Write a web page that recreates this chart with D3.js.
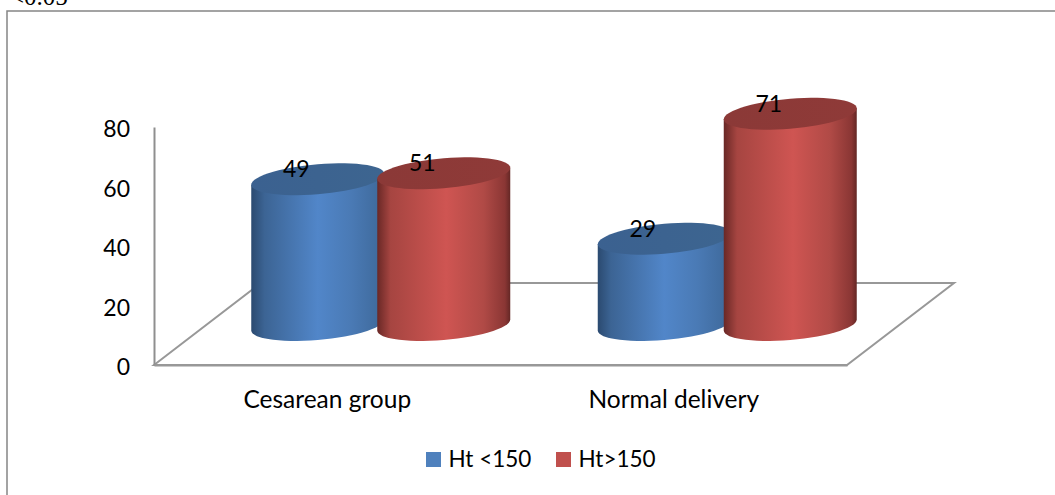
<!DOCTYPE html>
<html>
<head>
<meta charset="utf-8">
<script src="https://cdn.jsdelivr.net/npm/d3@7"></script>
<style>
  html, body { margin: 0; padding: 0; background: #fff; overflow: hidden; }
  text { font-family: Lato, sans-serif; fill: #000; }
</style>
</head>
<body>
<div id="chart"></div>
<script>
const categories = ["Cesarean group", "Normal delivery"];
const seriesNames = ["Ht <150", "Ht>150"];
const htUnder150 = [49, 29];
const htOver150 = [51, 71];
const yTicks = [0, 20, 40, 60, 80];
const seriesColors = ["#4f81bd", "#c0504d"];

let width = 1055,
  height = 495;

let svg = d3.select("#chart")
  .append("svg")
  .attr("width", width)
  .attr("height", height)
  .style("display", "block");

let data = [];
categories.forEach((c, i) => {
  data.push({ cat: c, series: 0, value: htUnder150[i] });
  data.push({ cat: c, series: 1, value: htOver150[i] });
});

let x = d3.scaleBand().domain(categories).range([154, 847]);
let y = d3.scaleLinear().domain([0, 80]).range([365, 127]);

// 3d floor offset
let depthX = 107, depthY = 82;
let shiftX = depthX / 2, shiftY = 40;

let barStep = 126, r = 66.5;
let inner = d3.scaleOrdinal().domain([0, 1]).range([-barStep / 2, barStep / 2]);

// outer frame, runs off the page on the right and bottom
svg.append("rect")
  .attr("x", 7).attr("y", 11)
  .attr("width", 1100).attr("height", 600)
  .attr("fill", "none")
  .attr("stroke", "#858585")
  .attr("stroke-width", 1.5);

// cut off caption from the page above
svg.append("text")
  .attr("x", 10).attr("y", 5)
  .style("font-family", "'Liberation Serif', serif")
  .style("font-size", "25px")
  .text("<0.05");

let defs = svg.append("defs");
let bodyStops = [
  [["0%", "#2b4a70"], ["10%", "#3c6494"], ["50%", "#5186c9"], ["75%", "#4a7ab5"], ["97%", "#3f6a9c"], ["100%", "#36587f"]],
  [["0%", "#692826"], ["10%", "#a64541"], ["52%", "#cf5552"], ["80%", "#b04a46"], ["96%", "#8a3634"], ["100%", "#642725"]]
];
let topStops = [
  [["0%", "#3b6190"], ["100%", "#3d6590"]],
  [["0%", "#8b3937"], ["100%", "#8f3a38"]]
];
function gradient(id, stops) {
  defs.append("linearGradient").attr("id", id)
    .selectAll("stop").data(stops).join("stop")
    .attr("offset", d => d[0])
    .attr("stop-color", d => d[1]);
}
bodyStops.forEach((s, i) => gradient("body" + i, s));
topStops.forEach((s, i) => gradient("top" + i, s));

// floor
let x0 = x.range()[0], x1 = x.range()[1], y0 = y(0);
let floor = d3.path();
floor.moveTo(x0, y0);
floor.lineTo(x0 + depthX, y0 - depthY);
floor.lineTo(x1 + depthX, y0 - depthY);
floor.lineTo(x1, y0);
floor.closePath();
svg.append("path")
  .attr("d", floor.toString())
  .attr("fill", "none")
  .attr("stroke", "#989898")
  .attr("stroke-width", 2);

// axes
let yAxis = svg.append("g")
  .attr("transform", `translate(${x0},0)`)
  .call(d3.axisLeft(y).tickValues(yTicks).tickSize(0).tickPadding(24));
let xAxis = svg.append("g")
  .attr("transform", `translate(0,${y0})`)
  .call(d3.axisBottom(x).tickSize(0).tickPadding(26));
yAxis.select(".domain").attr("stroke", "#8f8f8f").attr("stroke-width", 2);
xAxis.select(".domain").attr("stroke", "#989898").attr("stroke-width", 2);
yAxis.selectAll(".tick text").attr("dy", "0.42em").style("font-family", "Lato, sans-serif").style("font-size", "23px");
xAxis.selectAll(".tick text").style("font-family", "Lato, sans-serif").style("font-size", "24.5px");

// cylinders, tilted ellipse is a sheared one
let b = 15, shear = 5.5;
let angles = d3.range(0, 361, 6).map(d => d * Math.PI / 180);
let lower = d3.range(180, -1, -6).map(d => d * Math.PI / 180);
let pt = (cx, cy, t) => [cx + r * Math.cos(t), cy + b * Math.sin(t) - shear * Math.cos(t)];
let line = d3.line();

let cyl = svg.selectAll("g.cyl")
  .data(data)
  .join("g")
  .attr("class", "cyl");

cyl.each(function (d) {
  let cx = x(d.cat) + x.bandwidth() / 2 + shiftX + inner(d.series);
  let base = y(0) - shiftY, top = y(d.value) - shiftY;
  d.cx = cx;
  d.top = top;
  let g = d3.select(this);
  let side = [pt(cx, top, Math.PI)].concat(lower.map(t => pt(cx, base, t)), [pt(cx, top, 0)]);
  g.append("path")
    .attr("d", line(side) + "Z")
    .attr("fill", `url(#body${d.series})`);
  g.append("path")
    .attr("d", line(angles.map(t => pt(cx, top, t))) + "Z")
    .attr("fill", `url(#top${d.series})`);
});

// value labels
svg.selectAll("text.val")
  .data(data)
  .join("text")
  .attr("class", "val")
  .attr("x", d => d.cx - 21.5)
  .attr("y", d => d.top - 10)
  .attr("dy", "0.35em")
  .attr("text-anchor", "middle")
  .style("font-size", "23px")
  .text(d => d.value);

// legend
let legendX = [426, 556];
let legend = svg.selectAll("g.leg")
  .data(seriesNames)
  .join("g")
  .attr("class", "leg")
  .attr("transform", (d, i) => `translate(${legendX[i]},452)`);
legend.append("rect")
  .attr("width", 15).attr("height", 15)
  .attr("fill", (d, i) => seriesColors[i]);
legend.append("text")
  .attr("x", 22.5).attr("y", 7.5)
  .attr("dy", "0.35em")
  .style("font-size", "22.5px")
  .text(d => d);
</script>
</body>
</html>
